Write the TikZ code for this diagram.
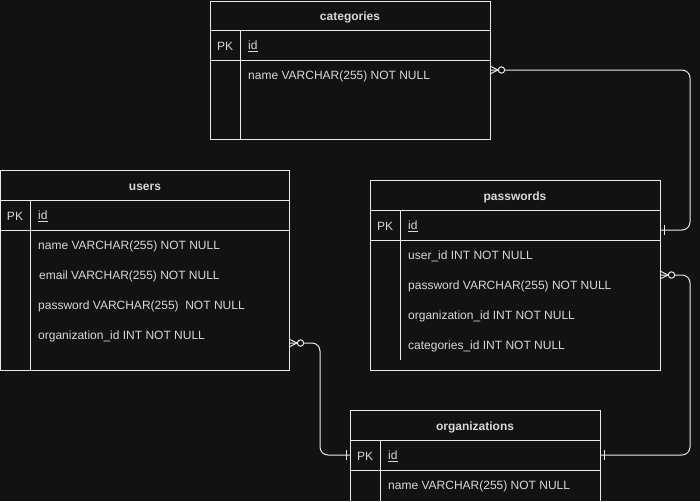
\documentclass[tikz,border=0pt]{standalone}
\usepackage{fontspec}
\setmainfont{Liberation Sans}
\usepackage{xcolor}
\usetikzlibrary{calc}

\definecolor{bgc}{HTML}{121212}
\definecolor{linec}{HTML}{E8E8E8}
\definecolor{txtc}{HTML}{D8D8D8}

\tikzset{
	tbl/.style={draw=linec, line width=1pt, inner sep=0pt, anchor=north west},
	hdr/.style={text=txtc, font=\fontsize{12}{14}\selectfont\bfseries},
	fld/.style={anchor=west, text=txtc, inner sep=0pt, font=\fontsize{12}{14}\selectfont},
	pk/.style={text=txtc, inner sep=0pt, font=\fontsize{12}{14}\selectfont},
	rel/.style={draw=linec, line width=1pt, rounded corners=8pt},
}

% zero or many, pointing into the table on the left of #1
\newcommand{\zeromany}[1]{
	\draw [linec, line width=1pt] ($(#1)+(8,0)$) -- ++(-8,4) ($(#1)+(8,0)$) -- ++(-8,-4);
	\draw [linec, line width=1pt, fill=bgc] ($(#1)+(11.5,0)$) circle [radius=3.2];
}
% exactly one, mark at distance #2 from #1
\newcommand{\onemark}[2]{
	\draw [linec, line width=1pt] ($(#1)+(#2,5)$) -- ++(0,-10);
}

\begin{document}
\begin{tikzpicture}[x=1pt, y=-1pt]
		%page and background
		\fill [bgc] (0,0) rectangle (700,501);
		\useasboundingbox (0,0) rectangle (700,501);
		\clip (0,0) rectangle (700,501);
		
		%categories
		\node [tbl, minimum width=280, minimum height=138] (categories) at (210,1) {};
		\draw [linec, line width=1pt] (210,30) -- (490,30) (210,60) -- (490,60) (240,30) -- (240,139);
		\node [hdr] (catT) at (350,17) {categories};
		\node [pk] (catPK) at (225,46) {PK};
		\node [fld] (catId) at (248,46) {\underline{id}};
		\node [fld] (catName) at (248,76) {name VARCHAR(255) NOT NULL};
		
		%users
		\node [tbl, minimum width=289, minimum height=200] (users) at (0,170) {};
		\draw [linec, line width=1pt] (0,200) -- (289,200) (0,230) -- (289,230) (30,200) -- (30,370);
		\node [hdr] (usrT) at (145,187) {users};
		\node [pk] (usrPK) at (15,216) {PK};
		\node [fld] (usrId) at (38,216) {\underline{id}};
		\foreach \i/\t in {0/name VARCHAR(255) NOT NULL, 1/\hspace{1pt}email VARCHAR(255) NOT NULL,
				2/password VARCHAR(255)\ \ NOT NULL, 3/organization\_id INT NOT NULL}
			\node [fld] (usr\i) at (38,246+30*\i) {\t};
		
		%passwords
		\node [tbl, minimum width=290, minimum height=190] (passwords) at (370,180) {};
		\draw [linec, line width=1pt] (370,210) -- (660,210) (370,240) -- (660,240) (400,210) -- (400,360);
		\node [hdr] (pwdT) at (515,197) {passwords};
		\node [pk] (pwdPK) at (385,226) {PK};
		\node [fld] (pwdId) at (408,226) {\underline{id}};
		\foreach \i/\t in {0/user\_id INT NOT NULL, 1/password VARCHAR(255) NOT NULL,
				2/organization\_id INT NOT NULL, 3/categories\_id INT NOT NULL}
			\node [fld] (pwd\i) at (408,256+30*\i) {\t};
		
		%organizations
		\node [tbl, minimum width=250, minimum height=120] (organizations) at (350,410) {};
		\draw [linec, line width=1pt] (350,440) -- (600,440) (350,470) -- (600,470) (380,440) -- (380,530);
		\node [hdr] (orgT) at (475,427) {organizations};
		\node [pk] (orgPK) at (365,456) {PK};
		\node [fld] (orgId) at (388,456) {\underline{id}};
		\node [fld] (orgName) at (388,486) {name VARCHAR(255) NOT NULL};
		
		%connection points
		\coordinate (catOut) at (490,70);
		\coordinate (pwdIn) at (660,230);
		\coordinate (pwdOut) at (660,275);
		\coordinate (orgInR) at (600,455);
		\coordinate (usrOut) at (289,343);
		\coordinate (orgInL) at (350,455);
		
		%relations
		\draw [rel] (catOut) -- ++(200,0) |- (pwdIn);
		\draw [rel] (pwdOut) -- ++(30,0) |- (orgInR);
		\draw [rel] (usrOut) -- ++(31,0) |- (orgInL);
		
		\zeromany{catOut}
		\zeromany{pwdOut}
		\zeromany{usrOut}
		\onemark{pwdIn}{4}
		\onemark{orgInR}{4}
		\onemark{orgInL}{-4}
	\end{tikzpicture}
\end{document}
